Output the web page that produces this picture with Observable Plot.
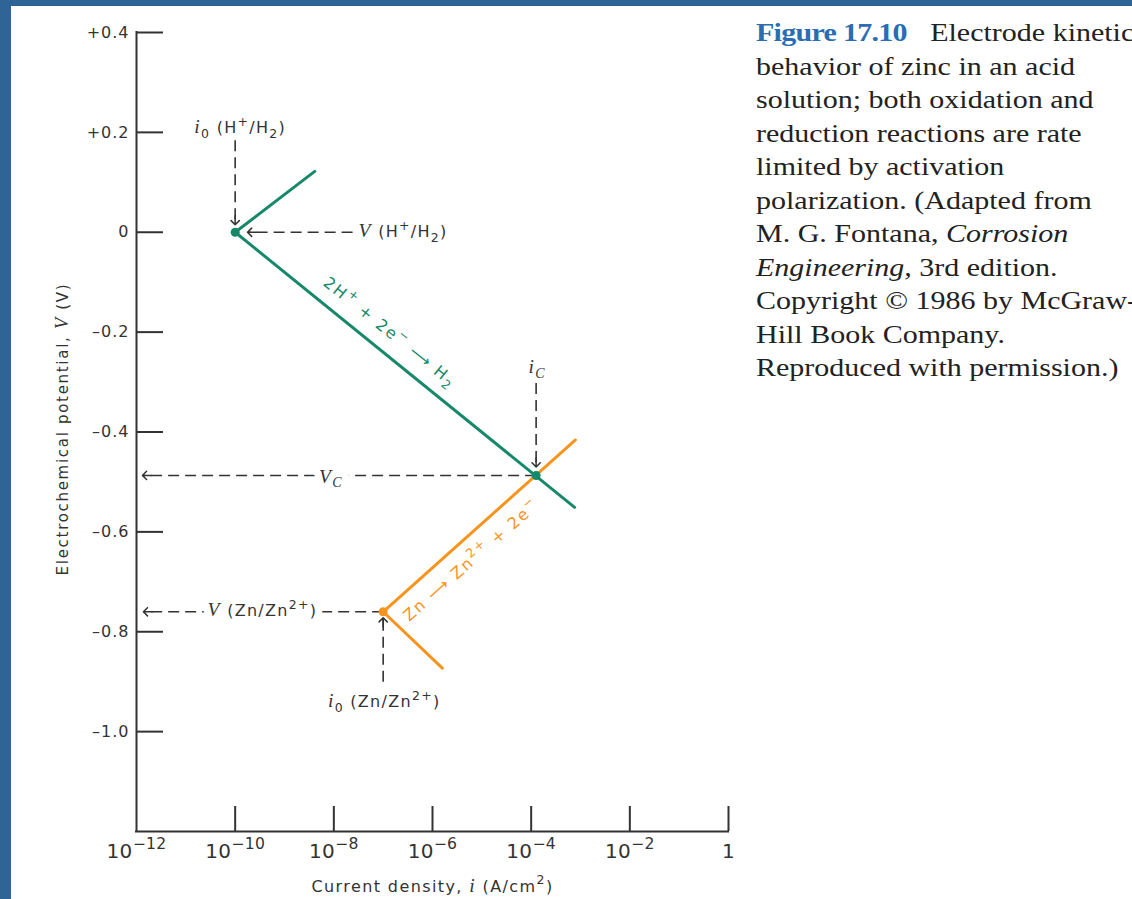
<!DOCTYPE html>
<html>
<head>
<meta charset="utf-8">
<script src="https://cdn.jsdelivr.net/npm/d3@7"></script>
<script src="https://cdn.jsdelivr.net/npm/@observablehq/plot@0.6"></script>
<style>
html, body { margin: 0; padding: 0; }
body { width: 1132px; height: 899px; background: #2f6596; overflow: hidden; position: relative; }
#page { position: absolute; left: 11px; top: 6px; width: 1121px; height: 893px; background: #fff; overflow: hidden; }
#chart { position: absolute; left: 0; top: 0; }
#caption { position: absolute; left: 745px; top: 10px; font-family: "Liberation Serif", serif; font-size: 25px; line-height: 33.5px; color: #222; white-space: nowrap; transform: scaleX(1.2); transform-origin: 0 0; }
#caption .fig { color: #2b6cb3; font-weight: bold; letter-spacing: -0.6px; margin-right: 7px; }
</style>
</head>
<body>
<div id="page">
  <div id="chart"></div>
  <div id="caption"><span class="fig">Figure 17.10</span>&ensp;Electrode kinetic<br>behavior of zinc in an acid<br>solution; both oxidation and<br>reduction reactions are rate<br>limited by activation<br>polarization. (Adapted from<br>M. G. Fontana, <i>Corrosion</i><br><i>Engineering,</i> 3rd edition.<br>Copyright © 1986 by McGraw-<br>Hill Book Company.<br>Reproduced with permission.)</div>
</div>
<script>
// ---------- data ----------
const xDomain = [1e-12, 1];
const yDomain = [-1.2, 0.4];
const xTickValues = [1e-12, 1e-10, 1e-8, 1e-6, 1e-4, 1e-2, 1];
const xTickLabels = ["10^{−12}", "10^{−10}", "10^{−8}", "10^{−6}", "10^{−4}", "10^{−2}", "1"];
const yTickValues = [0.4, 0.2, 0, -0.2, -0.4, -0.6, -0.8, -1.0];
const yTickLabels = ["+0.4", "+0.2", "0", "–0.2", "–0.4", "–0.6", "–0.8", "–1.0"];

// H+/H2 polarization line (upper end, i0, lower end)
const h2Current = [4.1e-9, 1e-10, 7.6e-4];
const h2Potential = [0.122, 0, -0.551];
// Zn/Zn2+ polarization line (lower end, i0, upper end)
const znCurrent = [1.58e-6, 1e-7, 7.9e-4];
const znPotential = [-0.873, -0.76, -0.416];

// key points: i0(H), corrosion point; i0(Zn)
const h2PointCurrent = [1e-10, 1.26e-4];
const h2PointPotential = [0, -0.487];
const znPointCurrent = [1e-7];
const znPointPotential = [-0.76];

// dashed leader lines: i0(H), V(H), ic, Vc, V(Zn), i0(Zn)
const leaderX1 = [1e-10, 2.4e-8, 1.26e-4, 1.26e-4, 1e-7, 1e-7];
const leaderY1 = [0.184, 0, -0.302, -0.487, -0.76, -0.9];
const leaderX2 = [1e-10, 1.78e-10, 1.26e-4, 1.32e-12, 1.38e-12, 1e-7];
const leaderY2 = [0.015, 0, -0.47, -0.487, -0.76, -0.772];

// annotation labels
const annotationText = ["*i*_{0} (H^{+}/H_{2})", "*V* (H^{+}/H_{2})", "*i*_{*C*}", "*V*_{*C*}", "*V* (Zn/Zn^{2+})", "*i*_{0} (Zn/Zn^{2+})"];
const annotationCurrent = [1e-10, 2.4e-8, 1.26e-4, 8.7e-9, 2.75e-11, 1e-7];
const annotationPotential = [0.184, 0, -0.302, -0.487, -0.76, -0.9];

// reaction labels along the lines
const reactionText = ["2H^{+} + 2e^{−} ⟶ H_{2}", "Zn ⟶ Zn^{2+} + 2e^{−}"];
const reactionCurrent = [7.8e-8, 3.2e-6];
const reactionPotential = [-0.23, -0.625];

const xTitle = "Current density, *i* (A/cm^{2})";
const yTitle = "Electrochemical potential, *V* (V)";

// ---------- chart ----------
const W = 730, H = 893, ML = 125, MR = 13, MT = 26, MB = 68;
const innerW = W - ML - MR, innerH = H - MT - MB;
const ink = "#333";
const green = "#17896a", orange = "#f7941d";
const idx = n => d3.range(n);
const sans = "DejaVu Sans";

function leaderAngle(i) {
  if (leaderY1[i] === leaderY2[i]) return leaderX2[i] < leaderX1[i] ? 270 : 90;
  return leaderY2[i] < leaderY1[i] ? 180 : 0;
}

function annotation(i, opts) {
  return Plot.text([i], {
    x: j => annotationCurrent[j], y: j => annotationPotential[j], text: j => annotationText[j],
    fontSize: 16, fontFamily: sans, fill: ink, ariaDescription: "annotation", ...opts
  });
}

const plot = Plot.plot({
  width: W, height: H,
  marginLeft: ML, marginRight: MR, marginTop: MT, marginBottom: MB,
  style: {background: "transparent", overflow: "visible"},
  x: {type: "log", domain: xDomain, axis: null},
  y: {domain: yDomain, axis: null},
  marks: [
    Plot.ruleX([xDomain[0]], {x: d => d, stroke: ink, strokeWidth: 2, strokeLinecap: "square"}),
    Plot.ruleY([yDomain[0]], {y: d => d, stroke: ink, strokeWidth: 2, strokeLinecap: "square"}),
    Plot.tickY(yTickValues, {y: d => d, stroke: ink, strokeWidth: 2, insetRight: innerW - 27}),
    Plot.tickX(xTickValues.slice(1), {x: d => d, stroke: ink, strokeWidth: 2, insetTop: innerH - 25}),
    Plot.text(idx(yTickValues.length), {
      y: i => yTickValues[i], text: i => yTickLabels[i], frameAnchor: "left", textAnchor: "end",
      lineAnchor: "middle", dx: -7, fontSize: 16, fontFamily: sans, fill: ink, ariaDescription: "ytick-labels"
    }),
    Plot.text(idx(xTickValues.length), {
      x: i => xTickValues[i], text: i => xTickLabels[i], frameAnchor: "bottom", textAnchor: "middle",
      lineAnchor: "middle", dy: 20, fontSize: 20, fontFamily: sans, fill: ink, ariaDescription: "xtick-labels"
    }),
    Plot.text([xTitle], {text: d => d, frameAnchor: "bottom", textAnchor: "middle", lineAnchor: "middle",
      dy: 55, fontSize: 16, fontFamily: sans, fill: ink, ariaDescription: "x-title"}),
    Plot.text([yTitle], {text: d => d, frameAnchor: "left", textAnchor: "middle", lineAnchor: "middle",
      rotate: -90, dx: -73, dy: -3, fontSize: 15, fontFamily: sans, fill: ink, ariaDescription: "y-title"}),

    // dashed leaders and arrowheads
    Plot.link(idx(leaderX1.length), {
      x1: i => leaderX1[i], y1: i => leaderY1[i], x2: i => leaderX2[i], y2: i => leaderY2[i],
      stroke: ink, strokeWidth: 1.6, strokeDasharray: "11,6"
    }),
    Plot.vector(idx(leaderX1.length), {
      x: i => leaderX2[i], y: i => leaderY2[i], rotate: leaderAngle,
      length: 9, anchor: "end", r: 8, stroke: ink, strokeWidth: 1.5
    }),

    // polarization lines
    Plot.line(idx(znCurrent.length), {x: i => znCurrent[i], y: i => znPotential[i], stroke: orange, strokeWidth: 3}),
    Plot.line(idx(h2Current.length), {x: i => h2Current[i], y: i => h2Potential[i], stroke: green, strokeWidth: 3}),
    Plot.dot(idx(znPointCurrent.length), {x: i => znPointCurrent[i], y: i => znPointPotential[i], r: 4.5, fill: orange, stroke: null}),
    Plot.dot(idx(h2PointCurrent.length), {x: i => h2PointCurrent[i], y: i => h2PointPotential[i], r: 4.5, fill: green, stroke: null}),

    // annotation labels (white underlay hides the dashes behind Vc and V(Zn))
    annotation(3, {dy: 2, fill: "white", stroke: "white", strokeWidth: 15, strokeLinejoin: "round"}),
    annotation(4, {textAnchor: "start", dy: -1, fill: "white", stroke: "white", strokeWidth: 15, strokeLinejoin: "round"}),
    annotation(0, {dy: -12, dx: 5}),
    annotation(1, {textAnchor: "start", dx: 6}),
    annotation(2, {dy: -15, dx: 1}),
    annotation(3, {dy: 2}),
    annotation(4, {textAnchor: "start", dy: -1}),
    annotation(5, {dy: 20, dx: 1}),

    // reaction labels
    Plot.text([0], {x: i => reactionCurrent[i], y: i => reactionPotential[i], text: i => reactionText[i],
      rotate: 38.8, dx: 12, dy: -15, fontSize: 16, fontFamily: sans, fill: green, ariaDescription: "reaction"}),
    Plot.text([1], {x: i => reactionCurrent[i], y: i => reactionPotential[i], text: i => reactionText[i],
      rotate: -41.4, dx: 14, dy: 16, fontSize: 16, fontFamily: sans, fill: orange, ariaDescription: "reaction"})
  ]
});

document.getElementById("chart").appendChild(plot);

// letter spacing per text group
const spacing = {"ytick-labels": 1, "y-title": 1.7, "x-title": 1.4, "annotation": 1.3, "reaction": 1.8, "xtick-labels": 0.3};
for (const [k, v] of Object.entries(spacing)) {
  plot.querySelectorAll(`[aria-description="${k}"]`).forEach(el => el.setAttribute("letter-spacing", v));
}

// simple markup: *italic*, _{sub}, ^{sup}
const SVGNS = "http://www.w3.org/2000/svg";
function renderMarkup(t) {
  const s = t.textContent;
  if (!/[*_^]/.test(s)) return;
  const fs = parseFloat(getComputedStyle(t).fontSize) || 14;
  const parts = s.split(/(\*[^*]+\*|_\{[^}]*\}|\^\{[^}]*\})/).filter(p => p !== "");
  t.textContent = "";
  let cur = 0;
  for (const p of parts) {
    let mode = "n", content = p;
    if (p.startsWith("_{")) { mode = "sub"; content = p.slice(2, -1); }
    else if (p.startsWith("^{")) { mode = "sup"; content = p.slice(2, -1); }
    let italic = false;
    if (content.length > 1 && content.startsWith("*") && content.endsWith("*")) { italic = true; content = content.slice(1, -1); }
    const target = mode === "sup" ? -0.45 * fs : mode === "sub" ? 0.3 * fs : 0;
    const ts = document.createElementNS(SVGNS, "tspan");
    if (target !== cur) ts.setAttribute("dy", (target - cur).toFixed(2));
    cur = target;
    let size = mode === "n" ? fs : fs * 0.78;
    if (italic) {
      size *= mode === "n" ? 1.22 : 1.12;
      ts.setAttribute("font-style", "italic");
      ts.setAttribute("font-family", "Liberation Serif, serif");
    }
    if (size !== fs) ts.setAttribute("font-size", size.toFixed(2));
    ts.textContent = content;
    t.appendChild(ts);
  }
}
plot.querySelectorAll("text").forEach(renderMarkup);
</script>
</body>
</html>
